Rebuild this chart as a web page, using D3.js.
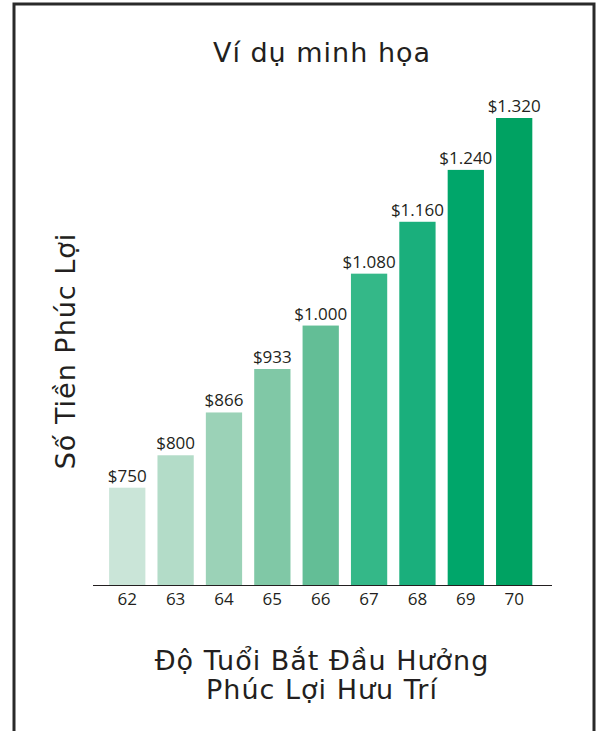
<!DOCTYPE html>
<html>
<head>
<meta charset="utf-8">
<script src="https://cdn.jsdelivr.net/npm/d3@7"></script>
<style>
  body { margin: 0; background: #fff; }
  svg { display: block; }
</style>
</head>
<body>
<svg id="chart" width="602" height="731"></svg>
<script>
// datos
var ages = ["62", "63", "64", "65", "66", "67", "68", "69", "70"];
var benefits = [750, 800, 866, 933, 1000, 1080, 1160, 1240, 1320];
var labels = ["$750", "$800", "$866", "$933", "$1.000", "$1.080", "$1.160", "$1.240", "$1.320"];
var palette = ["#cae5d8", "#b3dcc8", "#9bd2b7", "#80c8a6", "#63be96", "#34b888", "#1aaf7c", "#00a66a", "#00a262"];

var svg = d3.select("#chart");

// marco
svg.append("path")
  .attr("d", "M14,740 L14,4 L594,4 L594,740")
  .attr("fill", "none")
  .attr("stroke", "#2a2a2a")
  .attr("stroke-width", 3);

var x = d3.scaleBand()
  .domain(ages)
  .range([93, 552])
  .paddingInner(0.25)
  .paddingOuter(0.37)
  .align(0.45);

var y = d3.scaleLinear()
  .domain([600, 1320])
  .range([585, 118]);

var colorOf = d3.scaleOrdinal().domain(ages).range(palette);

svg.selectAll("rect.bar")
  .data(benefits)
  .enter()
  .append("rect")
    .attr("class", "bar")
    .attr("x", function (d, i) { return x(ages[i]); })
    .attr("y", function (d) { return y(d); })
    .attr("width", x.bandwidth())
    .attr("height", function (d) { return y(600) - y(d); })
    .attr("fill", function (d, i) { return colorOf(ages[i]); });

svg.selectAll("text.val")
  .data(benefits)
  .enter()
  .append("text")
    .attr("class", "val")
    .attr("x", function (d, i) { return x(ages[i]) + x.bandwidth() / 2; })
    .attr("y", function (d) { return y(d) - 6; })
    .attr("text-anchor", "middle")
    .attr("font-family", "'Open Sans', sans-serif")
    .attr("font-size", 17)
    .attr("fill", "#231f20")
    .text(function (d, i) { return labels[i]; });

// eje x
var xAxis = svg.append("g")
  .attr("transform", "translate(0,585)")
  .call(d3.axisBottom(x).tickSize(0).tickPadding(8));
xAxis.select(".domain").attr("stroke", "#231f20").attr("d", "M93,0.5H552");
xAxis.selectAll("text")
  .attr("font-family", "'Open Sans', sans-serif")
  .attr("font-size", 17)
  .attr("fill", "#231f20");

// titulos
svg.append("text")
  .attr("x", 322)
  .attr("y", 62)
  .attr("text-anchor", "middle")
  .attr("font-family", "'DejaVu Sans', sans-serif")
  .attr("font-size", 27)
  .attr("letter-spacing", 1)
  .attr("fill", "#231f20")
  .text("Ví dụ minh họa");

svg.append("text")
  .attr("transform", "translate(75,351) rotate(-90)")
  .attr("text-anchor", "middle")
  .attr("font-family", "'DejaVu Sans', sans-serif")
  .attr("font-size", 27)
  .attr("letter-spacing", 1)
  .attr("fill", "#231f20")
  .text("Số Tiền Phúc Lợi");

var xt = svg.append("text")
  .attr("text-anchor", "middle")
  .attr("font-family", "'DejaVu Sans', sans-serif")
  .attr("font-size", 27)
  .attr("letter-spacing", 1)
  .attr("fill", "#231f20");
xt.append("tspan").attr("x", 322).attr("y", 670).text("Độ Tuổi Bắt Đầu Hưởng");
xt.append("tspan").attr("x", 322).attr("y", 699).text("Phúc Lợi Hưu Trí");
</script>
</body>
</html>
